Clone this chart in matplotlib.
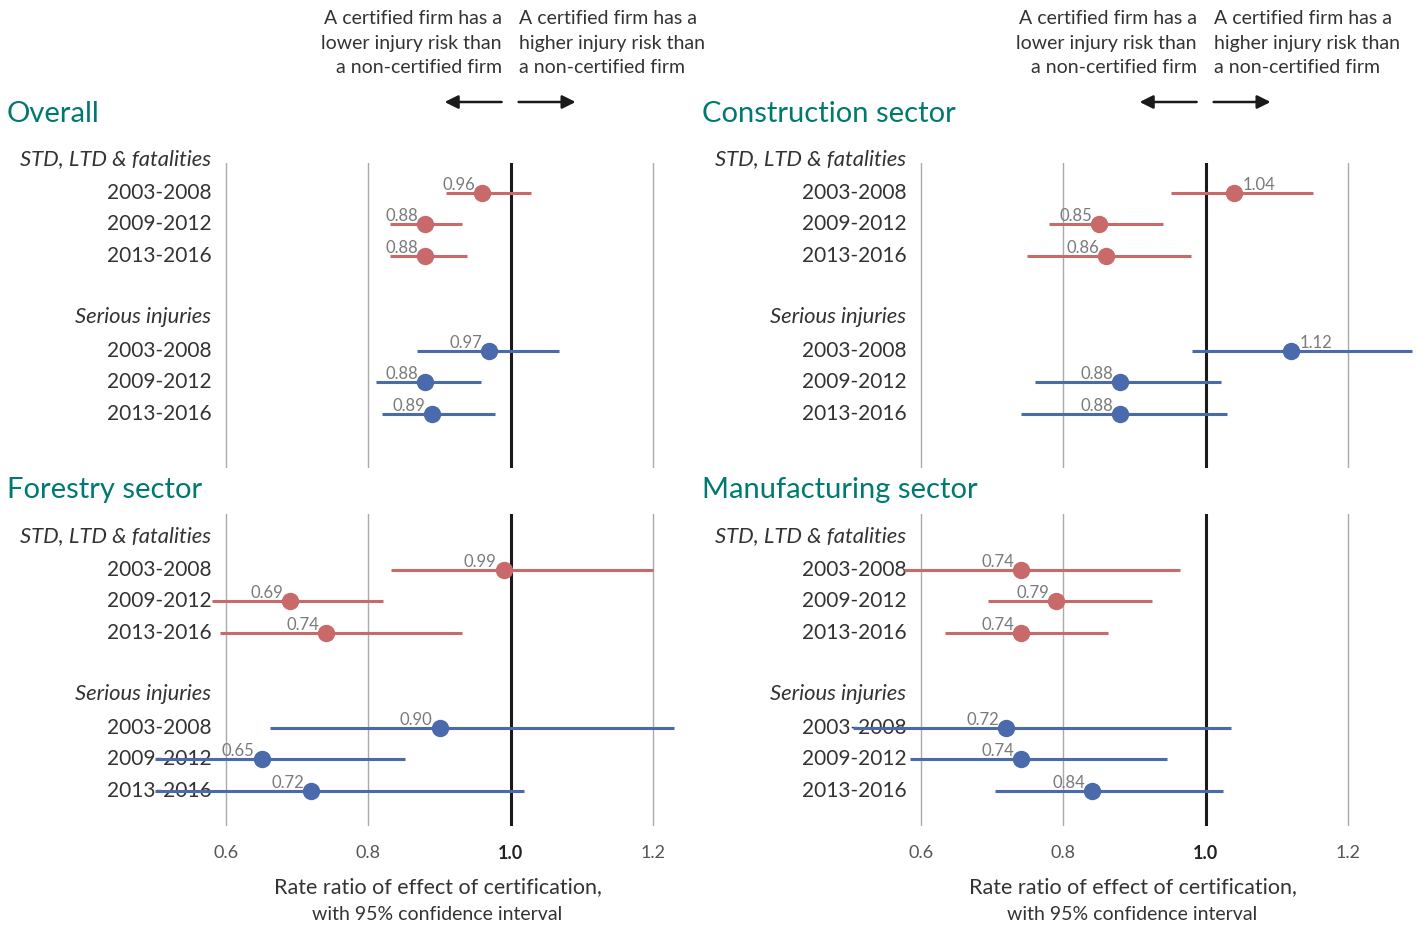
import matplotlib
matplotlib.use("Agg")
import matplotlib.pyplot as plt

plt.rcParams['font.family'] = ['Lato', 'DejaVu Sans']

W, H = 1424, 927

RED = "#C96A6A"
BLUE = "#4A6AAB"
TEAL = "#007A6E"
GREY_TXT = "#7A7A7A"
DARK_TXT = "#333333"

periods = ["2003-2008", "2009-2012", "2013-2016"]
group_labels = ["STD, LTD & fatalities", "Serious injuries"]
ticks = [0.6, 0.8, 1.0, 1.2]

# order: STD 2003-08, 09-12, 13-16, serious 2003-08, 09-12, 13-16
overall_est = [0.96, 0.88, 0.88, 0.97, 0.88, 0.89]
overall_lo = [0.909, 0.831, 0.831, 0.869, 0.811, 0.819]
overall_hi = [1.029, 0.931, 0.939, 1.068, 0.959, 0.978]

construction_est = [1.04, 0.85, 0.86, 1.12, 0.88, 0.88]
construction_lo = [0.952, 0.780, 0.749, 0.981, 0.760, 0.741]
construction_hi = [1.151, 0.940, 0.980, 1.290, 1.021, 1.030]

forestry_est = [0.99, 0.69, 0.74, 0.90, 0.65, 0.72]
forestry_lo = [0.832, 0.580, 0.592, 0.662, 0.500, 0.500]
forestry_hi = [1.200, 0.821, 0.931, 1.230, 0.852, 1.019]

manufacturing_est = [0.74, 0.79, 0.74, 0.72, 0.74, 0.84]
manufacturing_lo = [0.576, 0.694, 0.634, 0.504, 0.585, 0.704]
manufacturing_hi = [0.964, 0.925, 0.863, 1.035, 0.945, 1.025]

panels = [
    ("Overall", overall_est, overall_lo, overall_hi),
    ("Construction sector", construction_est, construction_lo, construction_hi),
    ("Forestry sector", forestry_est, forestry_lo, forestry_hi),
    ("Manufacturing sector", manufacturing_est, manufacturing_lo, manufacturing_hi),
]

XMIN, XMAX = 0.5, 1.3
PITCH = 31.6
row_slots = [1, 2, 3, 6, 7, 8]
header_slots = [0, 5]

# pixel layout: (x at 0.5, x at 1.3), (axes top, axes bottom, slot-0 y)
cols = [(155, 724), (850, 1419)]
rows = [(163, 468, 161), (514, 826, 538)]
title_y = [114, 490]
title_x = [7, 702]


def fx(x):
    return x / W


def fy(y):
    return 1 - y / H


fig = plt.figure(figsize=(W / 100, H / 100), dpi=100)

for idx, (title, est, lo, hi) in enumerate(panels):
    r, c = divmod(idx, 2)
    x0, x1 = cols[c]
    top, bot, y0 = rows[r]
    ax = fig.add_axes([fx(x0), fy(bot), fx(x1 - x0), (bot - top) / H])
    ax.patch.set_visible(False)
    for s in ax.spines.values():
        s.set_visible(False)
    ax.set_xlim(XMIN, XMAX)
    ax.set_ylim((bot - y0) / PITCH, (top - y0) / PITCH)
    ax.set_yticks([])

    for t in ticks:
        if t == 1.0:
            ax.axvline(t, color="#1a1a1a", lw=2.2, zorder=1)
        else:
            ax.axvline(t, color="#AAAAAA", lw=1.0, zorder=1)

    lab_x = 0.579
    for g, slot in zip(group_labels, header_slots):
        ax.text(lab_x, slot - 0.05, g, ha="right", va="center", fontsize=15.8,
                style="italic", color=DARK_TXT, clip_on=False, zorder=2)
    for i, slot in enumerate(row_slots):
        ax.text(lab_x, slot, periods[i % 3], ha="right", va="center",
                fontsize=15, color=DARK_TXT, clip_on=False, zorder=2)
        col = RED if i < 3 else BLUE
        ax.plot([lo[i], hi[i]], [slot, slot], color=col, lw=2.2,
                solid_capstyle="butt", zorder=4)
        ax.plot([est[i]], [slot], "o", color=col, ms=11.5, zorder=5)
        if est[i] > 1:
            ax.annotate(f"{est[i]:.2f}", (est[i], slot), xytext=(6, 0),
                        textcoords="offset points", ha="left", va="bottom",
                        fontsize=12, color=GREY_TXT, zorder=6)
        else:
            ax.annotate(f"{est[i]:.2f}", (est[i], slot), xytext=(-5, 0),
                        textcoords="offset points", ha="right", va="bottom",
                        fontsize=12, color=GREY_TXT, zorder=6)

    if r == 1:
        ax.set_xticks(ticks)
        ax.set_xticklabels([f"{t:.1f}" for t in ticks], fontsize=13, color="#555555")
        ax.tick_params(axis="x", length=0, pad=14)
        for lbl, t in zip(ax.get_xticklabels(), ticks):
            if t == 1.0:
                lbl.set_color("#222222")
                lbl.set_fontweight("bold")
    else:
        ax.set_xticks([])

    fig.text(fx(title_x[c]), fy(title_y[r]), title, ha="left", va="center",
             fontsize=21, color=TEAL)

# axis titles and direction notes per column
for c, (x0, x1) in enumerate(cols):
    def px(v):
        return x0 + (v - XMIN) / (XMAX - XMIN) * (x1 - x0)
    xc = px(0.9)
    fig.text(fx(xc - 2), fy(887), "Rate ratio of effect of certification,",
             ha="center", va="center", fontsize=15.5, color=DARK_TXT)
    fig.text(fx(xc - 2), fy(914), "with 95% confidence interval",
             ha="center", va="center", fontsize=14, color=DARK_TXT)

    x_one = px(1.0)
    fig.text(fx(x_one - 9), fy(43),
             "A certified firm has a\nlower injury risk than\na non-certified firm",
             ha="right", va="center", fontsize=14, color=DARK_TXT, linespacing=1.55)
    fig.text(fx(x_one + 8), fy(43),
             "A certified firm has a\nhigher injury risk than\na non-certified firm",
             ha="left", va="center", fontsize=14, color=DARK_TXT, linespacing=1.55)
    fig.add_artist(matplotlib.patches.FancyArrowPatch(
        (fx(x_one - 9), fy(102)), (fx(x_one - 66), fy(102)),
        transform=fig.transFigure, arrowstyle="-|>,head_length=8,head_width=4",
        color="#1a1a1a", lw=1.8, mutation_scale=1, shrinkA=0, shrinkB=0))
    fig.add_artist(matplotlib.patches.FancyArrowPatch(
        (fx(x_one + 8), fy(102)), (fx(x_one + 65), fy(102)),
        transform=fig.transFigure, arrowstyle="-|>,head_length=8,head_width=4",
        color="#1a1a1a", lw=1.8, mutation_scale=1, shrinkA=0, shrinkB=0))

fig.savefig("out.png", dpi=100)
